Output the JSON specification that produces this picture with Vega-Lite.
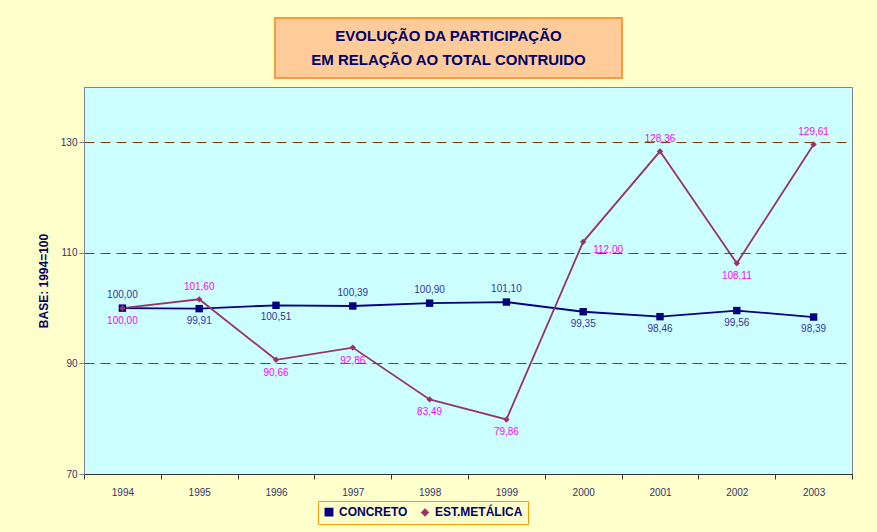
{
  "$schema": "https://vega.github.io/schema/vega-lite/v6.json",
  "background": "#FFFFCC",
  "padding": {"left": 36, "top": 17, "right": 25, "bottom": 34},
  "spacing": 7,
  "center": true,
  "config": {
    "locale": {"number": {"decimal": ",", "thousands": ".", "grouping": [3], "currency": ["R$", ""]}},
    "font": "Liberation Sans"
  },
  "vconcat": [
    {
      "width": 347,
      "height": 60,
      "view": {"fill": "#FFCC99", "stroke": "#FF9933", "strokeWidth": 2},
      "data": {"values": [
        {"line": 1, "text": "EVOLUÇÃO DA PARTICIPAÇÃO"},
        {"line": 2, "text": "EM RELAÇÃO AO TOTAL CONTRUIDO"}
      ]},
      "mark": {"type": "text", "fontSize": 15, "fontWeight": "bold", "color": "#000066"},
      "encoding": {
        "y": {"field": "line", "type": "ordinal", "scale": {"padding": 0.75},
          "axis": {"orient": "right", "labels": false, "ticks": false, "domain": false, "title": "x", "titleOpacity": 0, "titlePadding": 28}},
        "text": {"field": "text"}
      }
    },
    {
      "width": 768,
      "height": 387,
      "view": {"fill": "#CCFFFF", "stroke": "#7F7FA0"},
      "data": {"values": [
        {"year": "1994", "serie": "CONCRETO", "value": 100.00},
        {"year": "1995", "serie": "CONCRETO", "value": 99.91},
        {"year": "1996", "serie": "CONCRETO", "value": 100.51},
        {"year": "1997", "serie": "CONCRETO", "value": 100.39},
        {"year": "1998", "serie": "CONCRETO", "value": 100.90},
        {"year": "1999", "serie": "CONCRETO", "value": 101.10},
        {"year": "2000", "serie": "CONCRETO", "value": 99.35},
        {"year": "2001", "serie": "CONCRETO", "value": 98.46},
        {"year": "2002", "serie": "CONCRETO", "value": 99.56},
        {"year": "2003", "serie": "CONCRETO", "value": 98.39},
        {"year": "1994", "serie": "EST.METÁLICA", "value": 100.00},
        {"year": "1995", "serie": "EST.METÁLICA", "value": 101.60},
        {"year": "1996", "serie": "EST.METÁLICA", "value": 90.66},
        {"year": "1997", "serie": "EST.METÁLICA", "value": 92.86},
        {"year": "1998", "serie": "EST.METÁLICA", "value": 83.49},
        {"year": "1999", "serie": "EST.METÁLICA", "value": 79.86},
        {"year": "2000", "serie": "EST.METÁLICA", "value": 112.00},
        {"year": "2001", "serie": "EST.METÁLICA", "value": 128.36},
        {"year": "2002", "serie": "EST.METÁLICA", "value": 108.11},
        {"year": "2003", "serie": "EST.METÁLICA", "value": 129.61}
      ]},
      "encoding": {
        "x": {
          "field": "year", "type": "ordinal", "bandPosition": 0.5,
          "scale": {"type": "band", "paddingInner": 0, "paddingOuter": 0},
          "axis": {
            "title": null, "labelAngle": 0, "labelFontSize": 10, "labelColor": "#333366",
            "labelPadding": 8, "tickBand": "extent", "tickColor": "#333333", "tickSize": 5,
            "domainColor": "#333333", "grid": false
          }
        },
        "y": {
          "field": "value", "type": "quantitative",
          "scale": {"domain": [70, 140], "nice": false, "zero": false},
          "axis": {
            "values": [70, 90, 110, 130], "title": "BASE: 1994=100",
            "titleFontWeight": "bold", "titleColor": "#000066", "titleFontSize": 12, "titlePadding": 10,
            "labelFontSize": 10, "labelColor": "#333366", "tickColor": "#7F7FA0", "tickSize": 5,
            "domainColor": "#7F7FA0", "grid": true, "gridColor": "#993300", "gridDash": [10, 6], "gridWidth": 1
          }
        },
        "color": {"field": "serie", "type": "nominal", "scale": {"domain": ["CONCRETO", "EST.METÁLICA"], "range": ["#000080", "#993366"]},
          "legend": {
            "title": null, "orient": "none", "legendX": 234, "legendY": 483, "direction": "horizontal",
            "fillColor": "#FFFFCC", "strokeColor": "#FF9900", "padding": 5,
            "labelFontWeight": "bold", "labelFontSize": 12, "labelColor": "#000066", "symbolSize": 60
          }}
      },
      "layer": [
        {
          "mark": {"type": "line", "strokeWidth": 1.8}
        },
        {
          "mark": {"type": "point", "filled": true, "opacity": 1},
          "encoding": {
            "shape": {"field": "serie", "type": "nominal", "scale": {"domain": ["CONCRETO", "EST.METÁLICA"], "range": ["square", "diamond"]}},
            "size": {"field": "serie", "type": "nominal", "scale": {"domain": ["CONCRETO", "EST.METÁLICA"], "range": [55, 40]}, "legend": null}
          }
        },
        {
          "transform": [{"filter": {"field": "serie", "equal": "CONCRETO"}}, {"filter": {"field": "year", "oneOf": ["1994", "1997", "1998", "1999"]}}],
          "mark": {"type": "text", "dy": -13, "fontSize": 10},
          "encoding": {"text": {"field": "value", "type": "quantitative", "format": ".2f"}, "color": {"value": "#333399"}}
        },
        {
          "transform": [{"filter": {"field": "serie", "equal": "CONCRETO"}}, {"filter": {"field": "year", "oneOf": ["1995", "1996", "2000", "2001", "2002", "2003"]}}],
          "mark": {"type": "text", "dy": 12, "fontSize": 10},
          "encoding": {"text": {"field": "value", "type": "quantitative", "format": ".2f"}, "color": {"value": "#333399"}}
        },
        {
          "transform": [{"filter": {"field": "serie", "equal": "EST.METÁLICA"}}, {"filter": {"field": "year", "oneOf": ["1995", "2001", "2003"]}}],
          "mark": {"type": "text", "dy": -12, "fontSize": 10},
          "encoding": {"text": {"field": "value", "type": "quantitative", "format": ".2f"}, "color": {"value": "#FF00FF"}}
        },
        {
          "transform": [{"filter": {"field": "serie", "equal": "EST.METÁLICA"}}, {"filter": {"field": "year", "oneOf": ["1994", "1996", "1997", "1998", "1999", "2002"]}}],
          "mark": {"type": "text", "dy": 13, "fontSize": 10},
          "encoding": {"text": {"field": "value", "type": "quantitative", "format": ".2f"}, "color": {"value": "#FF00FF"}}
        },
        {
          "transform": [{"filter": {"field": "serie", "equal": "EST.METÁLICA"}}, {"filter": {"field": "year", "oneOf": ["2000"]}}],
          "mark": {"type": "text", "dx": 10, "dy": 8, "align": "left", "fontSize": 10},
          "encoding": {"text": {"field": "value", "type": "quantitative", "format": ".2f"}, "color": {"value": "#FF00FF"}}
        }
      ]
    }
  ]
}
